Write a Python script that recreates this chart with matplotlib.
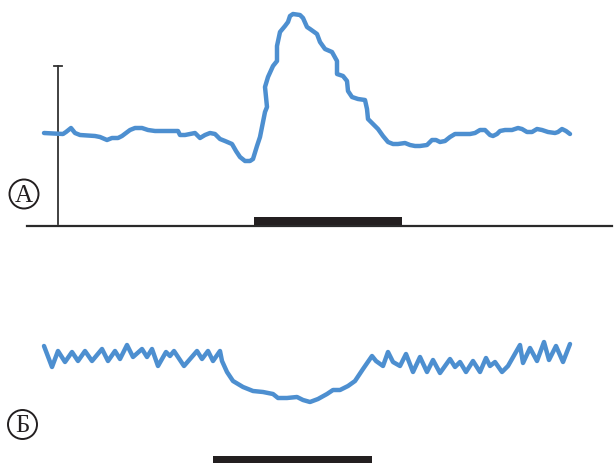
import matplotlib
matplotlib.use("Agg")
import matplotlib.pyplot as plt
from matplotlib.patches import Circle, Rectangle

# Trace A (x, y in image pixel units; y grows downward)
a_x = [44, 63, 66, 71, 75, 80, 95, 100, 107, 112, 118, 122, 130, 135, 142, 148, 155, 175, 178,
       180, 185, 195, 200, 205, 210, 215, 220, 225, 232, 236, 240, 245, 250, 253, 257, 260, 263,
       265, 267, 265, 268, 273, 277, 277, 280, 285, 288, 290, 293, 300, 303, 307, 310, 317, 320,
       325, 332, 337, 337, 343, 347, 348, 352, 358, 365, 367, 368, 373, 378, 383, 388, 393, 398,
       405, 410, 415, 420, 427, 432, 436, 440, 445, 450, 455, 460, 470, 475, 480, 485, 490, 493,
       497, 500, 505, 512, 518, 522, 527, 532, 537, 542, 548, 555, 558, 562, 566, 570]
a_y = [134, 135, 133, 129, 134, 136, 137, 138, 141, 139, 139, 137, 131, 129, 129, 131, 132, 132, 132,
       136, 136, 134, 139, 136, 134, 135, 140, 142, 145, 152, 158, 162, 162, 160, 147, 138, 123,
       113, 108, 88, 78, 67, 62, 47, 33, 27, 23, 17, 15, 16, 19, 28, 30, 35, 43,
       50, 53, 62, 75, 77, 82, 92, 98, 100, 101, 110, 120, 125, 130, 137, 143, 145, 145,
       144, 146, 147, 147, 146, 141, 141, 143, 142, 138, 135, 135, 135, 134, 131, 131, 136, 137,
       135, 132, 131, 131, 129, 130, 133, 133, 130, 131, 133, 134, 133, 130, 132, 135]

# Trace Б
b_x = [44, 52, 58, 65, 72, 78, 85, 92, 102, 108, 115, 120, 127, 133, 142, 147, 152, 158, 166, 170,
       174, 184, 197, 202, 208, 213, 220, 222, 227, 233, 243, 253, 263, 273, 278, 287, 297, 303,
       310, 318, 327, 333, 340, 348, 355, 363, 372, 376, 383, 388, 393, 400, 406, 413, 420, 427,
       433, 440, 450, 455, 460, 466, 473, 480, 486, 490, 495, 502, 508, 520, 523, 530, 537, 544,
       549, 556, 563, 570]
b_y = [347, 368, 352, 363, 353, 362, 352, 362, 350, 362, 352, 360, 346, 358, 350, 358, 350, 367, 353, 357,
       352, 367, 352, 360, 352, 362, 352, 362, 373, 382, 388, 392, 393, 395, 399, 399, 398, 401,
       403, 400, 395, 391, 391, 387, 382, 370, 357, 362, 367, 353, 363, 367, 355, 373, 358, 373,
       361, 374, 360, 368, 363, 373, 362, 373, 359, 367, 363, 373, 367, 346, 364, 349, 362, 343,
       361, 347, 363, 345]

labels = ["А", "Б"]
label_xy = [(24, 195), (22.5, 425.5)]
stim_bars = [(254, 402, 218, 226), (213, 372, 457, 465)]

fig = plt.figure(figsize=(6.15, 4.64), dpi=100)
ax = fig.add_axes([0, 0, 1, 1])
ax.set_xlim(0, 615)
ax.set_ylim(464, 0)
ax.axis("off")

blue = "#4d8fd0"
ax.plot(a_x, a_y, color=blue, lw=3.2, solid_joinstyle="round", solid_capstyle="round", zorder=3)
ax.plot(b_x, b_y, color=blue, lw=3.2, solid_joinstyle="round", solid_capstyle="round", zorder=3)

# scale bar and baseline for A
ax.plot([58, 58], [67, 225], color="#333333", lw=1.3, zorder=2)
ax.plot([54, 62], [67, 67], color="#333333", lw=1.3, zorder=2)
ax.plot([27, 612], [227, 227], color="#2a2a2a", lw=1.6, zorder=2)

for x0, x1, y0, y1 in stim_bars:
    ax.add_patch(Rectangle((x0, y0), x1 - x0, y1 - y0, facecolor="#231f20",
                           edgecolor="none", zorder=2))

for lab, (cx, cy) in zip(labels, label_xy):
    ax.add_patch(Circle((cx, cy), 14.5, facecolor="none", edgecolor="#231f20", lw=1.4))
    ax.text(cx, cy + 1, lab, ha="center", va="center", fontsize=18,
            family=["Liberation Serif", "DejaVu Serif"], color="#231f20")

fig.savefig("out.png", dpi=100)
